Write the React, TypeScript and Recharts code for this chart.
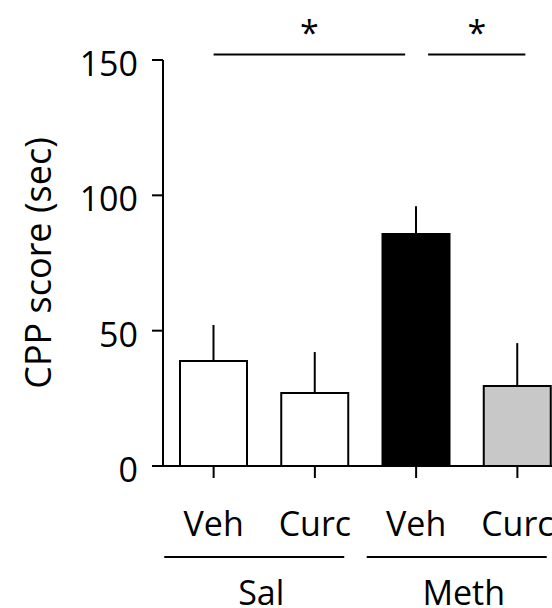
import { BarChart, Bar, XAxis, YAxis, ErrorBar, Cell, ReferenceLine } from 'recharts';

// groups / treatments
const treatments = ['Veh', 'Curc', 'Veh', 'Curc'];
const groups = ['Sal', 'Sal', 'Meth', 'Meth'];
const cppMeans = [38.8, 27.0, 85.7, 29.6];
const cppSem = [13.3, 15.1, 10.3, 15.8];
const barFills = ['#ffffff', '#ffffff', '#000000', '#c8c8c8'];
const yTicks = [0, 50, 100, 150];

const FONT = '"Open Sans", sans-serif';

const data = treatments.map((t, i) => ({
    key: `${groups[i]}-${t}`,
    treatment: t,
    group: groups[i],
    score: cppMeans[i],
    err: [0, cppSem[i]],
}));

// significance brackets: [from, to, nudge left end, nudge right end]
const sigLines: Array<[string, string, number, number]> = [
    ['Sal-Veh', 'Meth-Veh', 0, -11],
    ['Meth-Veh', 'Meth-Curc', 12, 8],
];
const SIG_Y = 152;

function SigShape(dx1: number, dx2: number) {
    return (props: any) => {
        const { x1, y1, x2 } = props;
        const a = x1 + dx1;
        const b = x2 + dx2;
        return (
            <g>
                <line x1={a} y1={y1} x2={b} y2={y1} stroke="#000" strokeWidth={2} />
                <text x={(a + b) / 2} y={y1 - 10} textAnchor="middle" fontFamily={FONT} fontSize={34} fill="#000">*</text>
            </g>
        );
    };
}

function TreatmentTick({ x, y, payload }: any) {
    const t = data[payload.index]?.treatment ?? payload.value;
    return (
        <text x={x} y={y} dy="0.71em" textAnchor="middle" fontFamily={FONT} fontSize={34} fill="#000">{t}</text>
    );
}

function GroupTick({ x, y, payload }: any) {
    return (
        <g>
            <line x1={x - 100} y1={y + 20} x2={x + 80} y2={y + 20} stroke="#000" strokeWidth={2} />
            <text x={x - 3} y={y + 68} textAnchor="middle" fontFamily={FONT} fontSize={34} fill="#000">{payload.value}</text>
        </g>
    );
}

function ValueTick({ x, y, payload }: any) {
    return (
        <text x={x} y={y + 4} dy="0.355em" textAnchor="end" fontFamily={FONT} fontSize={34} fill="#000">{payload.value}</text>
    );
}

function YLabel({ viewBox }: any) {
    const cx = viewBox.x + 51;
    const cy = viewBox.y + viewBox.height / 2;
    return (
        <text x={cx} y={cy} transform={`rotate(-90, ${cx}, ${cy})`} textAnchor="middle" fontFamily={FONT} fontSize={36} fill="#000">
            CPP score (sec)
        </text>
    );
}

export default function App() {
    return (
        <div style={{ position: 'absolute', left: 0, top: 0, width: 552, height: 608, overflow: 'hidden', background: '#fff' }}>
            <BarChart width={568} height={640} data={data} margin={{ top: 60, right: 0, left: 0, bottom: 0 }}>
                <XAxis
                    dataKey="key"
                    xAxisId="a1"
                    height={71}
                    tick={<TreatmentTick />}
                    tickSize={12}
                    tickMargin={34}
                    axisLine={{ stroke: '#000', strokeWidth: 2 }}
                    tickLine={{ stroke: '#000', strokeWidth: 2 }}
                    interval={0}
                />
                <XAxis
                    dataKey="group"
                    xAxisId="b2"
                    allowDuplicatedCategory={false}
                    height={103}
                    tick={<GroupTick />}
                    tickSize={0}
                    tickMargin={0}
                    axisLine={false}
                    tickLine={false}
                    interval={0}
                />
                <YAxis
                    domain={[0, 150]}
                    ticks={yTicks}
                    width={163}
                    tickSize={11}
                    tickMargin={14}
                    tick={<ValueTick />}
                    axisLine={{ stroke: '#000', strokeWidth: 2 }}
                    tickLine={{ stroke: '#000', strokeWidth: 2 }}
                    allowDataOverflow
                    label={<YLabel />}
                />
                {sigLines.map(([from, to, d1, d2]) => (
                    <ReferenceLine
                        key={from + to}
                        xAxisId="a1"
                        segment={[{ x: from, y: SIG_Y }, { x: to, y: SIG_Y }]}
                        ifOverflow="visible"
                        shape={SigShape(d1, d2)}
                    />
                ))}
                <Bar dataKey="score" xAxisId="a1" barSize={67} stroke="#000" strokeWidth={2} isAnimationActive={false}>
                    {data.map((d, i) => (
                        <Cell key={d.key} fill={barFills[i]} />
                    ))}
                    <ErrorBar dataKey="err" width={0} stroke="#000" strokeWidth={2} direction="y" />
                </Bar>
            </BarChart>
        </div>
    );
}
